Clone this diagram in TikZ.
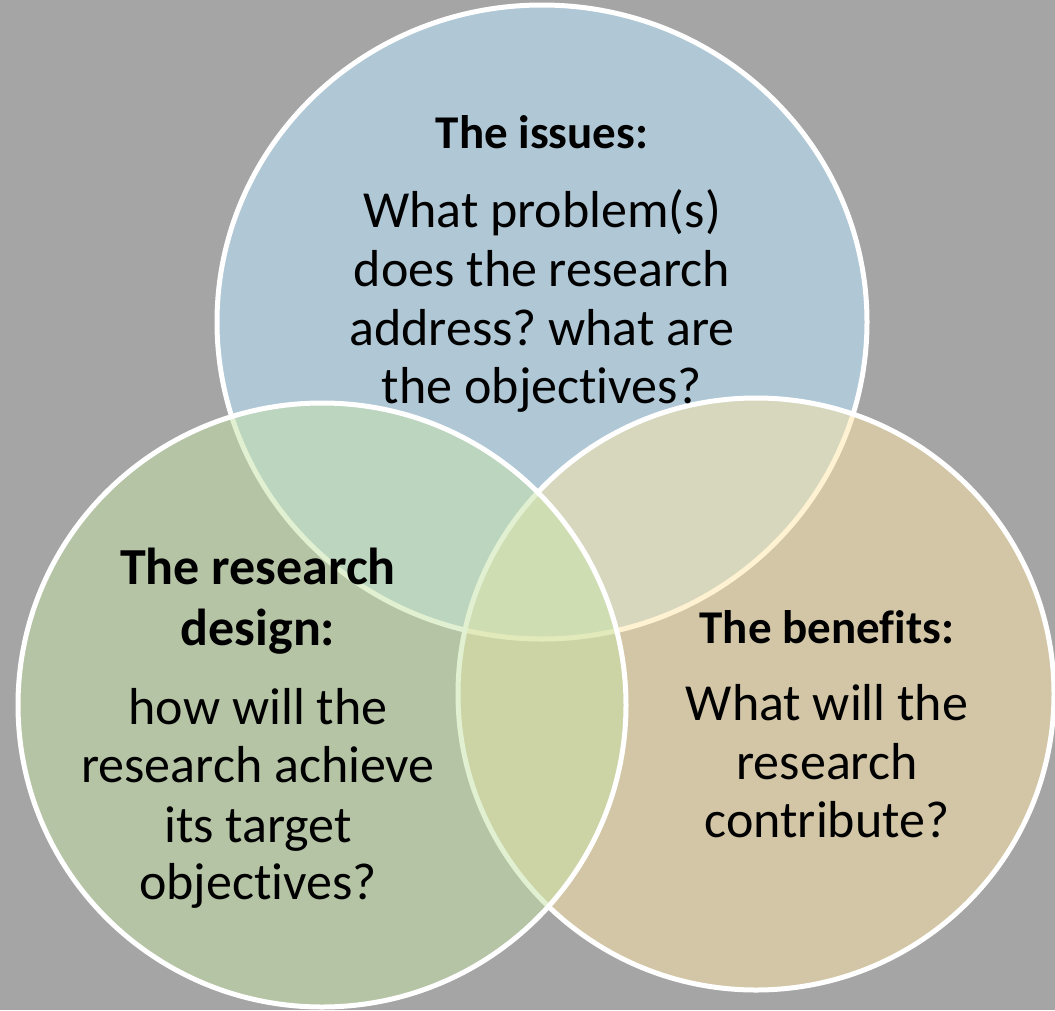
\documentclass[tikz,border=0pt]{standalone}
\usepackage{fontspec}
\setmainfont[Ligatures=NoCommon]{Carlito}
\frenchspacing
\definecolor{bggray}{RGB}{165,165,165}
\definecolor{vblue}{RGB}{176,200,214}
\definecolor{vgreen}{RGB}{199,227,167}
\definecolor{vtan}{RGB}{255,231,167}
\tikzset{
  ring/.style={draw=white, line width=5pt},
  head/.style={anchor=base, inner sep=0pt, font=\bfseries\fontsize{47}{56}\selectfont},
  headbig/.style={anchor=base, inner sep=0pt, font=\bfseries\fontsize{52}{60}\selectfont},
  body/.style={anchor=base, inner sep=0pt, font=\fontsize{52}{59}\selectfont},
}
\begin{document}
\begin{tikzpicture}[x=1pt,y=-1pt]
\fill[bggray] (0,0) rectangle (1055,1010);
\useasboundingbox (0,0) rectangle (1055,1010);
% circles: blue (bottom), tan, green (top)
\draw[ring, fill=vblue] (542,322) ellipse [x radius=325, y radius=317];
\draw[ring, fill=vtan, fill opacity=0.5] (756,694) ellipse [x radius=298, y radius=296];
\draw[ring, fill=vgreen, fill opacity=0.5] (322,705) ellipse [x radius=304, y radius=302];
% top texts
\node[head] (t0) at (542,148) {The issues:};
\node[body] (t1) at (542,227) {What problem(s)};
\node[body] (t2) at (542,286) {does the research};
\node[body] (t3) at (542,345) {address? what are};
\node[body] (t4) at (542,403) {the objectives?};
% left texts
\node[headbig] (l0) at (258,584) {The research};
\node[headbig] (l1) at (258,645) {design:};
\node[body] (l2) at (258,724) {how will the};
\node[body] (l3) at (258,782) {research achieve};
\node[body] (l4) at (258,842) {its target};
\node[body] (l5) at (258,899) {objectives?};
% right texts
\node[head] (r0) at (827,643) {The benefits:};
\node[body] (r1) at (827,720) {What will the};
\node[body] (r2) at (827,779) {research};
\node[body] (r3) at (827,837) {contribute?};
\end{tikzpicture}
\end{document}
